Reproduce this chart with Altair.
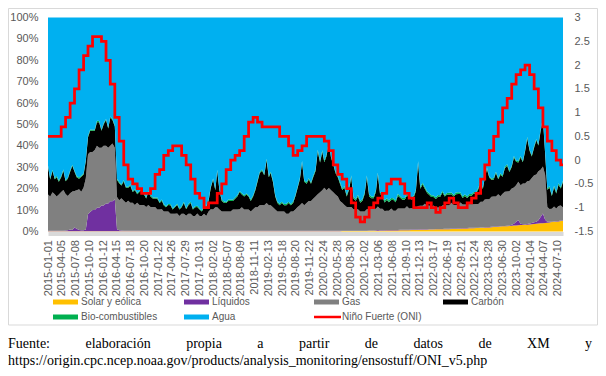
import altair as alt
import pandas as pd
from datetime import date

# ---------------- data ----------------
sources = ["Solar y eólica", "Líquidos", "Gas", "Carbón", "Bio-combustibles", "Agua"]
colors = ["#FFC000", "#7030A0", "#808080", "#000000", "#00B050", "#00B0F0"]

# shares (%) on the 1st and 16th of each month, Jan 2015 .. Aug 2024
solar = [
    0.1,0.1,0.1,0.1,0.1,0.1,0.1,0.1,0.1,0.1,0.1,0.1,0.1,0.1,0.1,0.1,0.1,0.1,0.1,0.1,0.1,0.1,0.1,0.1,
    0.1,0.1,0.1,0.1,0.1,0.1,0.1,0.1,0.1,0.1,0.1,0.1,0.1,0.1,0.1,0.1,0.1,0.1,0.1,0.1,0.1,0.1,0.1,0.1,
    0.1,0.1,0.1,0.1,0.1,0.1,0.1,0.1,0.1,0.1,0.1,0.1,0.1,0.1,0.1,0.1,0.1,0.1,0.1,0.1,0.1,0.1,0.1,0.1,
    0.1,0.1,0.1,0.1,0.1,0.1,0.1,0.1,0.1,0.1,0.1,0.1,0.1,0.1,0.1,0.1,0.1,0.1,0.1,0.1,0.1,0.1,0.1,0.1,
    0.1,0.1,0.1,0.1,0.1,0.1,0.1,0.1,0.1,0.1,0.1,0.1,0.1,0.1,0.1,0.1,0.1,0.1,0.1,0.1,0.1,0.1,0.1,0.1,
    0.1,0.1,0.1,0.1,0.1,0.1,0.1,0.1,0.1,0.1,0.1,0.1,0.2,0.2,0.2,0.2,0.2,0.2,0.2,0.2,0.2,0.2,0.2,0.2,
    0.3,0.3,0.3,0.4,0.4,0.4,0.4,0.4,0.5,0.5,0.5,0.5,0.5,0.5,0.6,0.6,0.6,0.6,0.6,0.7,0.7,0.7,0.7,0.8,
    0.8,0.8,0.8,0.9,0.9,0.9,1.0,1.0,1.0,1.0,1.1,1.1,1.1,1.2,1.2,1.2,1.3,1.3,1.4,1.4,1.4,1.5,1.5,1.5,
    1.6,1.6,1.7,1.7,1.8,1.9,1.9,2.0,2.1,2.1,2.2,2.3,2.4,2.4,2.5,2.6,2.7,2.8,2.8,2.9,3.0,3.0,3.1,3.2,
    3.3,3.4,3.5,3.6,3.7,3.8,3.9,4.0,4.1,4.2,4.4,4.5,4.6,4.7,4.9,5.0,
]
liquidos = [
    0.2,0.2,0.2,0.3,0.3,0.2,0.3,0.3,0.4,0.5,0.8,0.6,1.8,1.2,0.6,0.5,0.5,0.8,8,9,10,10,11,11,
    12,12,13,13,14,14,15,1.0,0.5,0.4,0.3,0.3,0.3,0.3,0.3,0.3,0.3,0.3,0.3,0.3,0.3,0.3,0.3,0.3,
    0.3,0.2,0.2,0.3,0.2,0.2,0.3,0.2,0.2,0.2,0.3,0.2,0.2,0.2,0.3,0.2,0.2,0.2,0.2,0.3,0.2,0.2,0.2,0.2,
    0.2,0.3,0.2,0.2,0.2,0.2,0.2,0.3,0.2,0.2,0.2,0.2,0.2,0.2,0.3,0.2,0.2,0.2,0.2,0.2,0.3,0.2,0.2,0.2,
    0.3,0.2,0.2,0.2,0.2,0.2,0.2,0.2,0.2,0.2,0.2,0.2,0.2,0.2,0.2,0.2,0.3,0.2,0.2,0.2,0.2,0.2,0.2,0.2,
    0.2,0.3,0.2,0.2,0.3,0.2,0.2,0.2,0.2,0.2,0.2,0.2,0.2,0.2,0.2,0.2,0.2,0.2,0.2,0.2,0.2,0.2,0.2,0.2,
    0.2,0.2,0.2,0.2,0.3,0.2,0.2,0.2,0.2,0.2,0.2,0.2,0.2,0.2,0.2,0.2,0.2,0.2,0.2,0.2,0.2,0.2,0.2,0.2,
    0.2,0.2,0.2,0.2,0.2,0.2,0.2,0.2,0.2,0.2,0.2,0.2,0.2,0.2,0.2,0.2,0.2,0.2,0.2,0.2,0.2,0.2,0.2,0.2,
    0.2,0.2,0.2,0.2,0.2,0.2,0.2,0.2,0.2,0.2,0.2,0.2,0.2,0.2,0.2,0.2,0.4,0.8,1.8,2.4,0.6,0.4,0.3,0.3,
    0.4,0.6,0.8,1.0,1.5,3.0,4.5,1.5,0.4,0.3,0.2,0.2,0.2,0.2,0.2,0.2,
]
gas = [
    17,16,18,17,16,17,18,19,17,16,17,18,17,18,19,18,20,24,28,28,27,28,29,28,
    27,28,27,26,26,27,24,15,14,15,14,13,14,13,13,12,13,12,12,12,11,12,11,11,
    11,10,10,10,9,9,9,8,8,8,8,7,8,8,7,8,8,7,7,8,7,7,8,7,
    9,10,10,11,11,10,9,9,9,9,9,10,10,10,10,11,10,10,10,9,10,11,11,12,
    12,12,13,12,12,11,10,9,9,9,9,8,8,9,9,10,11,12,13,12,13,14,14,15,
    16,17,18,19,20,19,20,19,18,17,16,14,13,12,11,11,11,10,10,10,9,9,9,10,
    10,10,10,10,11,10,10,9,9,9,10,9,9,10,10,10,10,11,10,10,10,10,11,11,
    11,12,11,11,10,11,10,10,10,11,11,11,11,12,11,11,11,12,11,11,11,11,11,11,
    11,11,12,12,13,13,13,14,14,14,15,14,15,16,16,16,17,17,17,18,18,19,19,20,
    20,21,22,22,23,22,22,21,7,6,6,7,6,7,7,6,
]
carbon = [
    13,8,10,7,9,6,7,9,6,8,10,12,9,6,5,7,6,8,8,10,10,9,11,12,
    8,10,12,9,13,11,10,8,8,6,9,7,6,8,5,7,4,6,7,5,4,6,5,4,
    4,5,3,4,3,2,3,4,2,3,4,3,3,5,3,4,5,3,4,3,3,2,3,4,
    5,10,14,8,17,9,5,4,4,5,5,4,5,6,8,6,6,7,6,5,6,8,12,15,
    16,14,20,13,15,12,6,4,3,4,3,4,5,3,4,6,9,12,19,11,9,10,8,10,
    12,20,14,18,12,16,21,15,13,10,9,8,6,8,5,8,14,5,4,6,4,5,8,15,
    6,5,5,8,15,7,6,4,5,4,4,5,4,6,5,4,4,5,5,4,5,8,20,8,
    10,7,6,5,5,4,4,5,5,6,4,5,5,4,4,5,5,4,3,4,3,4,4,5,
    5,7,9,6,10,14,10,8,8,11,7,10,8,11,12,9,10,14,11,9,13,10,15,20,
    14,10,13,16,12,18,22,10,8,10,6,9,7,10,8,12,
]
bio = [
    0.5,0.6,0.5,0.5,0.6,0.5,0.5,0.6,0.5,0.5,0.6,0.5,0.5,0.6,0.5,0.5,0.6,0.5,0.5,0.6,0.5,0.5,0.6,0.5,
    0.5,0.6,0.5,0.5,0.6,0.5,0.5,0.6,0.5,0.5,0.6,0.5,0.5,0.6,0.5,0.5,0.6,0.5,0.5,0.6,0.5,0.5,0.6,0.5,
    0.5,0.6,0.5,0.5,0.6,0.5,0.5,0.6,0.5,0.5,0.6,0.5,0.5,0.6,0.5,0.5,0.6,0.5,0.5,0.6,0.5,0.5,0.6,0.5,
    0.6,0.6,0.5,0.6,0.6,0.5,0.6,0.6,0.5,0.6,0.6,0.5,0.6,0.6,0.5,0.6,0.6,0.5,0.6,0.6,0.5,0.6,0.6,0.5,
    0.6,0.6,0.7,0.6,0.6,0.7,0.6,0.6,0.7,0.6,0.6,0.7,0.6,0.6,0.7,0.6,0.6,0.7,0.6,0.6,0.7,0.6,0.6,0.7,
    0.7,0.8,0.8,0.7,0.8,0.8,0.7,0.8,0.8,0.7,0.8,0.8,0.7,0.8,0.8,0.7,0.8,0.8,0.7,0.8,0.8,0.7,0.8,0.8,
    0.8,0.9,0.8,0.8,0.9,0.8,0.8,0.9,0.8,0.8,0.9,0.8,0.8,0.9,0.8,0.8,0.9,0.8,0.8,0.9,0.8,0.8,0.9,0.8,
    0.8,0.8,0.7,0.8,0.8,0.7,0.8,0.8,0.7,0.8,0.8,0.7,0.8,0.8,0.7,0.8,0.8,0.7,0.8,0.8,0.7,0.8,0.8,0.7,
    0.6,0.6,0.7,0.6,0.6,0.7,0.6,0.6,0.7,0.6,0.6,0.7,0.6,0.6,0.7,0.6,0.6,0.7,0.6,0.6,0.7,0.6,0.6,0.7,
    0.6,0.6,0.7,0.6,0.6,0.7,0.6,0.6,0.7,0.6,0.6,0.7,0.6,0.6,0.7,0.6,
]

# ONI (monthly, Jan 2015 .. Aug 2024)
oni = [
    0.5, 0.5, 0.5, 0.7, 0.9, 1.2, 1.5, 1.9, 2.2, 2.4, 2.6, 2.6,
    2.5, 2.1, 1.6, 0.9, 0.4, -0.1, -0.4, -0.5, -0.6, -0.7, -0.7, -0.6,
    -0.3, -0.2, 0.1, 0.2, 0.3, 0.3, 0.1, -0.1, -0.4, -0.7, -0.8, -1.0,
    -0.9, -0.9, -0.7, -0.5, -0.2, 0.0, 0.1, 0.2, 0.5, 0.8, 0.9, 0.8,
    0.7, 0.7, 0.7, 0.7, 0.5, 0.5, 0.3, 0.1, 0.2, 0.3, 0.5, 0.5,
    0.5, 0.5, 0.4, 0.2, -0.1, -0.3, -0.4, -0.6, -0.9, -1.2, -1.3, -1.2,
    -1.0, -0.9, -0.8, -0.7, -0.5, -0.4, -0.4, -0.5, -0.7, -0.8, -1.0, -1.0,
    -1.0, -0.9, -1.0, -1.1, -1.0, -0.9, -0.8, -0.9, -1.0, -1.0, -0.9, -0.8,
    -0.7, -0.4, -0.1, 0.2, 0.5, 0.8, 1.1, 1.3, 1.6, 1.8, 1.9, 2.0,
    1.8, 1.5, 1.1, 0.7, 0.4, 0.2, 0.0, -0.1,
]

tick_label_step_days = 94
n_tick_labels = 38
source_line1 = ["Fuente:", "elaboración", "propia", "a", "partir", "de", "datos", "de", "XM", "y"]
source_line2 = "https://origin.cpc.ncep.noaa.gov/products/analysis_monitoring/ensostuff/ONI_v5.php"

# ---------------- tables ----------------
START = date(2015, 1, 1)
months = []
for y in range(2015, 2025):
    for m in range(1, 13):
        if y == 2024 and m > 8:
            break
        months.append((y, m))

half_days = []
for (y, m) in months:
    half_days.append((date(y, m, 1) - START).days)
    half_days.append((date(y, m, 16) - START).days)
END_DAY = half_days[-1]

rows = []
for i, d in enumerate(half_days):
    parts = [solar[i], liquidos[i], gas[i], carbon[i], bio[i]]
    agua = 100 - sum(parts)
    for k, v in enumerate(parts + [agua]):
        rows.append({"day": d, "source": sources[k], "share": v, "rank": k})
mix = pd.DataFrame(rows)

oni_rows = [{"day": (date(y, m, 1) - START).days, "oni": v} for (y, m), v in zip(months, oni)]
oni_rows.append({"day": END_DAY, "oni": oni[-1]})
oni_df = pd.DataFrame(oni_rows)

label_days = [i * tick_label_step_days for i in range(n_tick_labels)]

# ---------------- chart ----------------
W, H = 515, 214
AX_FONT = "Liberation Sans"
AX_COLOR = "#595959"
xscale = alt.Scale(domain=[0, END_DAY], nice=False, zero=False)
xaxis = alt.Axis(values=label_days,
                 labelExpr="timeFormat(datetime(2015, 0, 1 + datum.value), '%Y-%m-%d')",
                 labelAngle=-90, labelPadding=6, ticks=False, grid=False,
                 domain=True, domainColor="#D9D9D9", domainWidth=4, offset=2,
                 labelOverlap=False, labelFlush=False, labelSeparation=0,
                 labelFont=AX_FONT, labelFontSize=11, labelColor=AX_COLOR)

area = alt.Chart(mix).mark_area(interpolate="linear").encode(
    x=alt.X("day:Q", scale=xscale, title=None, axis=xaxis),
    y=alt.Y("share:Q", stack="zero", scale=alt.Scale(domain=[0, 100], nice=False), title=None,
            axis=alt.Axis(orient="left", values=list(range(0, 101, 10)),
                          labelExpr="datum.value + '%'", ticks=False, domain=False, grid=False,
                          labelPadding=10, labelFlush=False,
                          labelFont=AX_FONT, labelFontSize=11, labelColor=AX_COLOR)),
    color=alt.Color("source:N", scale=alt.Scale(domain=sources, range=colors), legend=None),
    order=alt.Order("rank:Q"),
)

line = alt.Chart(oni_df).mark_line(interpolate="step-after", color="#FF0000", strokeWidth=2.75).encode(
    x=alt.X("day:Q", scale=xscale, title=None, axis=xaxis),
    y=alt.Y("oni:Q", scale=alt.Scale(domain=[-1.5, 3], nice=False, zero=False), title=None,
            axis=alt.Axis(orient="right", values=[-1.5, -1, -0.5, 0, 0.5, 1, 1.5, 2, 2.5, 3],
                          labelExpr="'' + datum.value", ticks=False, domain=False, grid=False,
                          labelPadding=11, labelFlush=False,
                          labelFont=AX_FONT, labelFontSize=11, labelColor=AX_COLOR)),
)

one = pd.DataFrame({"k": [0]})
layers = [area, line]

# outer frame
layers.append(alt.Chart(one).mark_rect(fillOpacity=0, stroke="#D9D9D9", strokeWidth=1).encode(
    x=alt.value(-39.5), x2=alt.value(549.5), y=alt.value(-9), y2=alt.value(307.5)))

# legend (manual, 4 columns x 2 rows)
legend_items = [(sources[0], colors[0], "area"), (sources[1], colors[1], "area"),
                (sources[2], colors[2], "area"), (sources[3], colors[3], "area"),
                (sources[4], colors[4], "area"), (sources[5], colors[5], "area"),
                ("Niño Fuerte (ONI)", "#FF0000", "line")]
col_x = [5, 136, 266, 395]
row_y = [284.5, 299.5]
for idx, (name, col, kind) in enumerate(legend_items):
    r, c = divmod(idx, 4)
    x0, yc = col_x[c], row_y[r]
    if kind == "area":
        layers.append(alt.Chart(one).mark_rect(color=col).encode(
            x=alt.value(x0), x2=alt.value(x0 + 25), y=alt.value(yc - 2.5), y2=alt.value(yc + 2.5)))
    else:
        layers.append(alt.Chart(one).mark_rule(color=col, strokeWidth=2.5).encode(
            x=alt.value(x0), x2=alt.value(x0 + 27), y=alt.value(yc)))
    layers.append(alt.Chart(one).mark_text(align="left", baseline="middle", font=AX_FONT,
                                           fontSize=10, color=AX_COLOR).encode(
        x=alt.value(x0 + 28), y=alt.value(yc), text=alt.value(name)))

# source note (first line justified)
times_w = {'F': 556, 'u': 500, 'e': 444, 'n': 500, 't': 278, ':': 278, 'l': 278, 'a': 444,
           'b': 500, 'o': 500, 'r': 333, 'c': 444, 'i': 278, 'ó': 500, 'p': 500, 'd': 500,
           's': 389, 'X': 722, 'M': 889, 'y': 500}
FS = 14
widths = [sum(times_w.get(ch, 500) for ch in w) * FS / 1000 for w in source_line1]
left, right = -40, 544
gap = (right - left - sum(widths)) / (len(source_line1) - 1)
xpos = left
for w, wd in zip(source_line1, widths):
    layers.append(alt.Chart(one).mark_text(align="left", baseline="alphabetic",
                                           font="Liberation Serif", fontSize=FS, color="#000000").encode(
        x=alt.value(xpos), y=alt.value(330.5), text=alt.value(w)))
    xpos += wd + gap
layers.append(alt.Chart(one).mark_text(align="left", baseline="alphabetic",
                                       font="Liberation Serif", fontSize=FS, color="#000000").encode(
    x=alt.value(-40), y=alt.value(347.5), text=alt.value(source_line2)))

chart = alt.layer(*layers).resolve_scale(y="independent").properties(
    width=W, height=H,
    autosize=alt.AutoSizeParams(type="none"),
    padding={"left": 40, "top": 9.5, "right": 35, "bottom": 136.5},
    background="#FFFFFF",
).configure_view(stroke=None).configure_axis(labelOverlap=False)

chart.save("out.html", embed_options={"renderer": "svg", "actions": False})
